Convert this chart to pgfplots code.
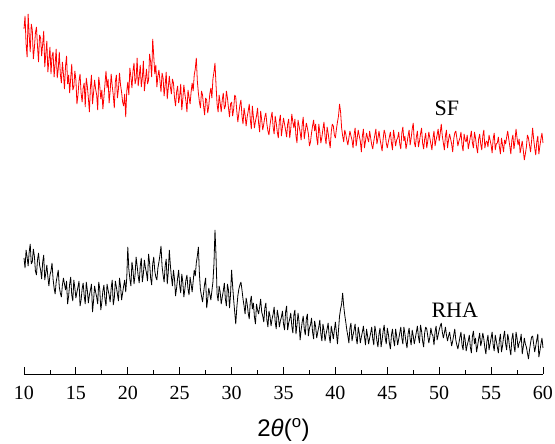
\documentclass[border=0pt]{standalone}
\usepackage{fontspec}
\setmainfont{Liberation Serif}
\setsansfont{Liberation Sans}
\usepackage{pgfplots}
\pgfplotsset{compat=1.18}
\begin{document}
\begin{tikzpicture}
\useasboundingbox (-24pt,-70pt) rectangle (531pt,374pt);
\begin{axis}[
  at={(0,0)}, anchor=south west,
  scale only axis, width=519pt, height=364pt,
  xmin=10, xmax=60, ymin=0, ymax=364,
  axis x line*=bottom, axis y line=none,
  xtick={10,15,...,60}, minor x tick num=1,
  xtick align=inside,
  major tick length=7pt, minor tick length=4pt,
  tick style={black, line width=0.8pt},
  axis line style={line width=0.8pt},
  /pgf/number format/assume math mode=true,
  xticklabel style={font=\fontsize{20}{20}\selectfont, yshift=-9pt},
  xlabel={\sffamily 2\textit{θ}(\textsuperscript{o})},
  every axis x label/.style={at={(rel axis cs:0.5,0)}, anchor=center, yshift=-56pt, font=\fontsize{24}{24}\selectfont},
  clip=false,
]
\addplot[red, line width=0.8pt, line join=bevel] coordinates {
(10.0,345)(10.1,358)(10.2,330)(10.3,317)(10.4,360)(10.5,339)(10.6,322)(10.7,350)(10.8,344)(10.9,315)
(11.0,326)(11.1,341)(11.2,347)(11.3,328)(11.4,312)(11.5,339)(11.6,336)(11.7,318)(11.8,330)(11.9,343)
(12.0,307)(12.1,320)(12.2,333)(12.3,302)(12.4,314)(12.5,327)(12.6,300)(12.7,318)(12.8,322)(12.9,297)
(13.0,310)(13.1,325)(13.2,296)(13.3,305)(13.4,322)(13.5,300)(13.6,291)(13.7,312)(13.8,300)(13.9,285)
(14.0,308)(14.1,318)(14.2,290)(14.3,299)(14.4,281)(14.5,296)(14.6,310)(14.7,284)(14.8,287)(14.9,303)
(15.0,294)(15.1,270)(15.2,279)(15.3,293)(15.4,300)(15.5,281)(15.6,272)(15.7,286)(15.8,291)(15.9,267)
(16.0,296)(16.1,288)(16.2,276)(16.3,262)(16.4,287)(16.5,299)(16.6,270)(16.7,281)(16.8,294)(16.9,285)
(17.0,279)(17.1,264)(17.2,297)(17.3,288)(17.4,275)(17.5,284)(17.6,265)(17.7,277)(17.8,290)(17.9,303)
(18.0,286)(18.1,295)(18.2,271)(18.3,283)(18.4,300)(18.5,288)(18.6,279)(18.7,266)(18.8,292)(18.9,299)
(19.0,276)(19.1,285)(19.2,301)(19.3,289)(19.4,282)(19.5,272)(19.6,268)(19.7,280)(19.8,257)(19.9,283)
(20.0,292)(20.1,279)(20.2,306)(20.3,297)(20.4,286)(20.5,303)(20.6,311)(20.7,290)(20.8,295)(20.9,316)
(21.0,288)(21.1,297)(21.2,309)(21.3,287)(21.4,296)(21.5,313)(21.6,283)(21.7,294)(21.8,305)(21.9,290)
(22.0,294)(22.1,320)(22.2,312)(22.3,297)(22.4,335)(22.5,318)(22.6,300)(22.7,309)(22.8,287)(22.9,298)
(23.0,304)(23.1,293)(23.2,282)(23.3,301)(23.4,296)(23.5,278)(23.6,289)(23.7,302)(23.8,275)(23.9,286)
(24.0,298)(24.1,287)(24.2,280)(24.3,295)(24.4,291)(24.5,276)(24.6,268)(24.7,282)(24.8,288)(24.9,271)
(25.0,278)(25.1,290)(25.2,264)(25.3,275)(25.4,289)(25.5,280)(25.6,273)(25.7,262)(25.8,284)(25.9,277)
(26.0,270)(26.1,282)(26.2,291)(26.3,283)(26.4,299)(26.5,305)(26.6,316)(26.7,293)(26.8,281)(26.9,272)
(27.0,266)(27.1,283)(27.2,279)(27.3,268)(27.4,259)(27.5,276)(27.6,274)(27.7,261)(27.8,268)(27.9,280)
(28.0,286)(28.1,276)(28.2,295)(28.3,302)(28.4,311)(28.5,289)(28.6,270)(28.7,262)(28.8,279)(28.9,271)
(29.0,262)(29.1,274)(29.2,281)(29.3,265)(29.4,268)(29.5,283)(29.6,276)(29.7,266)(29.8,257)(29.9,270)
(30.0,272)(30.1,258)(30.2,265)(30.3,279)(30.4,277)(30.5,263)(30.6,252)(30.7,261)(30.8,269)(30.9,274)
(31.0,258)(31.1,250)(31.2,266)(31.3,259)(31.4,248)(31.5,257)(31.6,263)(31.7,270)(31.8,255)(31.9,245)
(32.0,268)(32.1,257)(32.2,246)(32.3,253)(32.4,258)(32.5,266)(32.6,251)(32.7,242)(32.8,263)(32.9,254)
(33.0,244)(33.1,250)(33.2,257)(33.3,261)(33.4,250)(33.5,243)(33.6,239)(33.7,249)(33.8,256)(33.9,262)
(34.0,247)(34.1,240)(34.2,258)(34.3,251)(34.4,242)(34.5,236)(34.6,253)(34.7,259)(34.8,238)(34.9,247)
(35.0,256)(35.1,250)(35.2,244)(35.3,237)(35.4,250)(35.5,255)(35.6,236)(35.7,245)(35.8,260)(35.9,252)
(36.0,246)(36.1,255)(36.2,238)(36.3,231)(36.4,254)(36.5,248)(36.6,242)(36.7,234)(36.8,249)(36.9,257)
(37.0,235)(37.1,243)(37.2,251)(37.3,246)(37.4,240)(37.5,228)(37.6,232)(37.7,241)(37.8,248)(37.9,254)
(38.0,243)(38.1,250)(38.2,236)(38.3,229)(38.4,250)(38.5,242)(38.6,231)(38.7,237)(38.8,245)(38.9,252)
(39.0,238)(39.1,230)(39.2,247)(39.3,241)(39.4,233)(39.5,226)(39.6,242)(39.7,250)(39.8,248)(39.9,239)
(40.0,236)(40.1,245)(40.2,252)(40.3,258)(40.4,270)(40.5,262)(40.6,246)(40.7,238)(40.8,232)(40.9,244)
(41.0,240)(41.1,234)(41.2,229)(41.3,236)(41.4,243)(41.5,238)(41.6,234)(41.7,226)(41.8,239)(41.9,246)
(42.0,228)(42.1,236)(42.2,244)(42.3,238)(42.4,233)(42.5,222)(42.6,238)(42.7,245)(42.8,226)(42.9,233)
(43.0,241)(43.1,236)(43.2,232)(43.3,243)(43.4,236)(43.5,229)(43.6,225)(43.7,233)(43.8,239)(43.9,245)
(44.0,230)(44.1,236)(44.2,243)(44.3,235)(44.4,229)(44.5,223)(44.6,235)(44.7,244)(44.8,240)(44.9,231)
(45.0,226)(45.1,232)(45.2,237)(45.3,242)(45.4,231)(45.5,224)(45.6,244)(45.7,237)(45.8,228)(45.9,234)
(46.0,236)(46.1,242)(46.2,230)(46.3,225)(46.4,241)(46.5,247)(46.6,233)(46.7,238)(46.8,225)(46.9,231)
(47.0,238)(47.1,244)(47.2,229)(47.3,236)(47.4,245)(47.5,251)(47.6,232)(47.7,227)(47.8,237)(47.9,243)
(48.0,227)(48.1,233)(48.2,240)(48.3,246)(48.4,231)(48.5,225)(48.6,235)(48.7,241)(48.8,226)(48.9,233)
(49.0,242)(49.1,236)(49.2,230)(49.3,224)(49.4,236)(49.5,243)(49.6,228)(49.7,234)(49.8,239)(49.9,245)
(50.0,233)(50.1,241)(50.2,250)(50.3,238)(50.4,231)(50.5,224)(50.6,238)(50.7,244)(50.8,226)(50.9,234)
(51.0,240)(51.1,235)(51.2,230)(51.3,222)(51.4,235)(51.5,241)(51.6,243)(51.7,236)(51.8,228)(51.9,233)
(52.0,236)(52.1,242)(52.2,229)(52.3,223)(52.4,240)(52.5,234)(52.6,232)(52.7,239)(52.8,225)(52.9,231)
(53.0,237)(53.1,243)(53.2,231)(53.3,226)(53.4,242)(53.5,236)(53.6,227)(53.7,221)(53.8,235)(53.9,240)
(54.0,230)(54.1,224)(54.2,238)(54.3,244)(54.4,226)(54.5,232)(54.6,233)(54.7,227)(54.8,239)(54.9,234)
(55.0,229)(55.1,221)(55.2,235)(55.3,241)(55.4,224)(55.5,230)(55.6,231)(55.7,237)(55.8,227)(55.9,220)
(56.0,236)(56.1,229)(56.2,222)(56.3,234)(56.4,230)(56.5,237)(56.6,243)(56.7,235)(56.8,228)(56.9,220)
(57.0,234)(57.1,239)(57.2,225)(57.3,233)(57.4,245)(57.5,236)(57.6,229)(57.7,235)(57.8,221)(57.9,227)
(58.0,233)(58.1,224)(58.2,214)(58.3,220)(58.4,227)(58.5,239)(58.6,236)(58.7,229)(58.8,222)(58.9,233)
(59.0,246)(59.1,235)(59.2,226)(59.3,219)(59.4,232)(59.5,238)(59.6,220)(59.7,228)(59.8,235)(59.9,241)
(60.0,231)
};
\addplot[black, line width=0.8pt, line join=bevel] coordinates {
(10.0,116)(10.1,106)(10.2,124)(10.3,117)(10.4,108)(10.5,122)(10.6,130)(10.7,110)(10.8,112)(10.9,125)
(11.0,118)(11.1,103)(11.2,99)(11.3,114)(11.4,121)(11.5,109)(11.6,104)(11.7,95)(11.8,112)(11.9,119)
(12.0,94)(12.1,101)(12.2,109)(12.3,97)(12.4,88)(12.5,99)(12.6,103)(12.7,111)(12.8,95)(12.9,86)
(13.0,80)(13.1,92)(13.2,98)(13.3,104)(13.4,87)(13.5,81)(13.6,77)(13.7,89)(13.8,96)(13.9,90)
(14.0,84)(14.1,93)(14.2,70)(14.3,78)(14.4,90)(14.5,97)(14.6,79)(14.7,73)(14.8,94)(14.9,86)
(15.0,76)(15.1,82)(15.2,87)(15.3,93)(15.4,68)(15.5,74)(15.6,85)(15.7,91)(15.8,78)(15.9,70)
(16.0,92)(16.1,84)(16.2,71)(16.3,79)(16.4,84)(16.5,90)(16.6,62)(16.7,73)(16.8,88)(16.9,82)
(17.0,77)(17.1,70)(17.2,92)(17.3,85)(17.4,64)(17.5,72)(17.6,83)(17.7,89)(17.8,75)(17.9,68)
(18.0,90)(18.1,84)(18.2,79)(18.3,72)(18.4,86)(18.5,94)(18.6,69)(18.7,76)(18.8,93)(18.9,87)
(19.0,80)(19.1,73)(19.2,96)(19.3,88)(19.4,74)(19.5,81)(19.6,88)(19.7,94)(19.8,82)(19.9,96)
(20.0,127)(20.1,105)(20.2,95)(20.3,88)(20.4,112)(20.5,104)(20.6,90)(20.7,99)(20.8,117)(20.9,108)
(21.0,98)(21.1,91)(21.2,108)(21.3,116)(21.4,92)(21.5,100)(21.6,114)(21.7,106)(21.8,101)(21.9,93)
(22.0,120)(22.1,111)(22.2,96)(22.3,89)(22.4,110)(22.5,117)(22.6,103)(22.7,97)(22.8,94)(22.9,106)
(23.0,112)(23.1,119)(23.2,128)(23.3,108)(23.4,99)(23.5,92)(23.6,108)(23.7,115)(23.8,90)(23.9,102)
(24.0,124)(24.1,109)(24.2,97)(24.3,88)(24.4,104)(24.5,95)(24.6,78)(24.7,86)(24.8,96)(24.9,104)
(25.0,88)(25.1,81)(25.2,100)(25.3,92)(25.4,77)(25.5,85)(25.6,94)(25.7,99)(25.8,85)(25.9,79)
(26.0,97)(26.1,90)(26.2,82)(26.3,93)(26.4,104)(26.5,98)(26.6,111)(26.7,118)(26.8,127)(26.9,100)
(27.0,84)(27.1,78)(27.2,72)(27.3,81)(27.4,90)(27.5,96)(27.6,66)(27.7,75)(27.8,86)(27.9,80)
(28.0,74)(28.1,83)(28.2,92)(28.3,110)(28.4,144)(28.5,118)(28.6,80)(28.7,73)(28.8,88)(28.9,82)
(29.0,70)(29.1,77)(29.2,83)(29.3,91)(29.4,75)(29.5,68)(29.6,90)(29.7,84)(29.8,66)(29.9,80)
(30.0,104)(30.1,88)(30.2,74)(30.3,62)(30.4,50)(30.5,66)(30.6,78)(30.7,85)(30.8,89)(30.9,92)
(31.0,84)(31.1,75)(31.2,68)(31.3,60)(31.4,76)(31.5,70)(31.6,61)(31.7,55)(31.8,72)(31.9,78)
(32.0,65)(32.1,71)(32.2,57)(32.3,50)(32.4,70)(32.5,64)(32.6,60)(32.7,67)(32.8,75)(32.9,62)
(33.0,58)(33.1,52)(33.2,66)(33.3,71)(33.4,54)(33.5,47)(33.6,63)(33.7,58)(33.8,48)(33.9,55)
(34.0,60)(34.1,67)(34.2,52)(34.3,45)(34.4,64)(34.5,58)(34.6,47)(34.7,53)(34.8,57)(34.9,63)
(35.0,50)(35.1,44)(35.2,62)(35.3,68)(35.4,44)(35.5,51)(35.6,55)(35.7,61)(35.8,48)(35.9,41)
(36.0,59)(36.1,64)(36.2,40)(36.3,49)(36.4,61)(36.5,52)(36.6,34)(36.7,44)(36.8,52)(36.9,58)
(37.0,45)(37.1,39)(37.2,55)(37.3,60)(37.4,38)(37.5,46)(37.6,49)(37.7,56)(37.8,42)(37.9,35)
(38.0,53)(38.1,47)(38.2,36)(38.3,42)(38.4,47)(38.5,54)(38.6,40)(38.7,33)(38.8,50)(38.9,44)
(39.0,33)(39.1,40)(39.2,45)(39.3,51)(39.4,38)(39.5,31)(39.6,48)(39.7,42)(39.8,35)(39.9,44)
(40.0,52)(40.1,41)(40.2,30)(40.3,44)(40.4,58)(40.5,65)(40.6,70)(40.7,81)(40.8,68)(40.9,59)
(41.0,52)(41.1,44)(41.2,38)(41.3,31)(41.4,46)(41.5,51)(41.6,33)(41.7,39)(41.8,44)(41.9,50)
(42.0,36)(42.1,30)(42.2,47)(42.3,41)(42.4,31)(42.5,37)(42.6,42)(42.7,48)(42.8,37)(42.9,29)
(43.0,45)(43.1,38)(43.2,30)(43.3,36)(43.4,41)(43.5,47)(43.6,35)(43.7,29)(43.8,48)(43.9,42)
(44.0,33)(44.1,27)(44.2,40)(44.3,46)(44.4,27)(44.5,34)(44.6,43)(44.7,49)(44.8,36)(44.9,30)
(45.0,46)(45.1,40)(45.2,31)(45.3,25)(45.4,39)(45.5,45)(45.6,34)(45.7,28)(45.8,45)(45.9,38)
(46.0,29)(46.1,35)(46.2,41)(46.3,47)(46.4,36)(46.5,30)(46.6,47)(46.7,40)(46.8,32)(46.9,26)
(47.0,40)(47.1,46)(47.2,35)(47.3,29)(47.4,44)(47.5,38)(47.6,30)(47.7,36)(47.8,42)(47.9,48)
(48.0,37)(48.1,31)(48.2,49)(48.3,43)(48.4,33)(48.5,27)(48.6,41)(48.7,47)(48.8,45)(48.9,38)
(49.0,31)(49.1,37)(49.2,46)(49.3,40)(49.4,38)(49.5,29)(49.6,42)(49.7,48)(49.8,34)(49.9,39)
(50.0,44)(50.1,48)(50.2,51)(50.3,42)(50.4,36)(50.5,41)(50.6,47)(50.7,39)(50.8,33)(50.9,38)
(51.0,42)(51.1,35)(51.2,28)(51.3,33)(51.4,39)(51.5,45)(51.6,34)(51.7,29)(51.8,25)(51.9,31)
(52.0,37)(52.1,42)(52.2,29)(52.3,24)(52.4,40)(52.5,34)(52.6,23)(52.7,29)(52.8,33)(52.9,39)
(53.0,27)(53.1,21)(53.2,38)(53.3,43)(53.4,30)(53.5,36)(53.6,22)(53.7,28)(53.8,35)(53.9,41)
(54.0,28)(54.1,33)(54.2,41)(54.3,35)(54.4,26)(54.5,20)(54.6,33)(54.7,39)(54.8,24)(54.9,30)
(55.0,36)(55.1,42)(55.2,29)(55.3,23)(55.4,39)(55.5,33)(55.6,27)(55.7,21)(55.8,34)(55.9,40)
(56.0,22)(56.1,28)(56.2,37)(56.3,43)(56.4,30)(56.5,24)(56.6,40)(56.7,34)(56.8,25)(56.9,19)
(57.0,35)(57.1,41)(57.2,28)(57.3,22)(57.4,42)(57.5,36)(57.6,26)(57.7,31)(57.8,33)(57.9,40)
(58.0,20)(58.1,27)(58.2,36)(58.3,30)(58.4,27)(58.5,21)(58.6,15)(58.7,24)(58.8,31)(58.9,37)
(59.0,38)(59.1,30)(59.2,22)(59.3,28)(59.4,34)(59.5,40)(59.6,17)(59.7,23)(59.8,30)(59.9,36)
(60.0,26)
};
\node[font=\fontsize{22}{22}\selectfont] at (axis cs:50.75,266) {SF};
\node[font=\fontsize{22}{22}\selectfont] at (axis cs:51.5,64) {RHA};
\end{axis}
\end{tikzpicture}
\end{document}
